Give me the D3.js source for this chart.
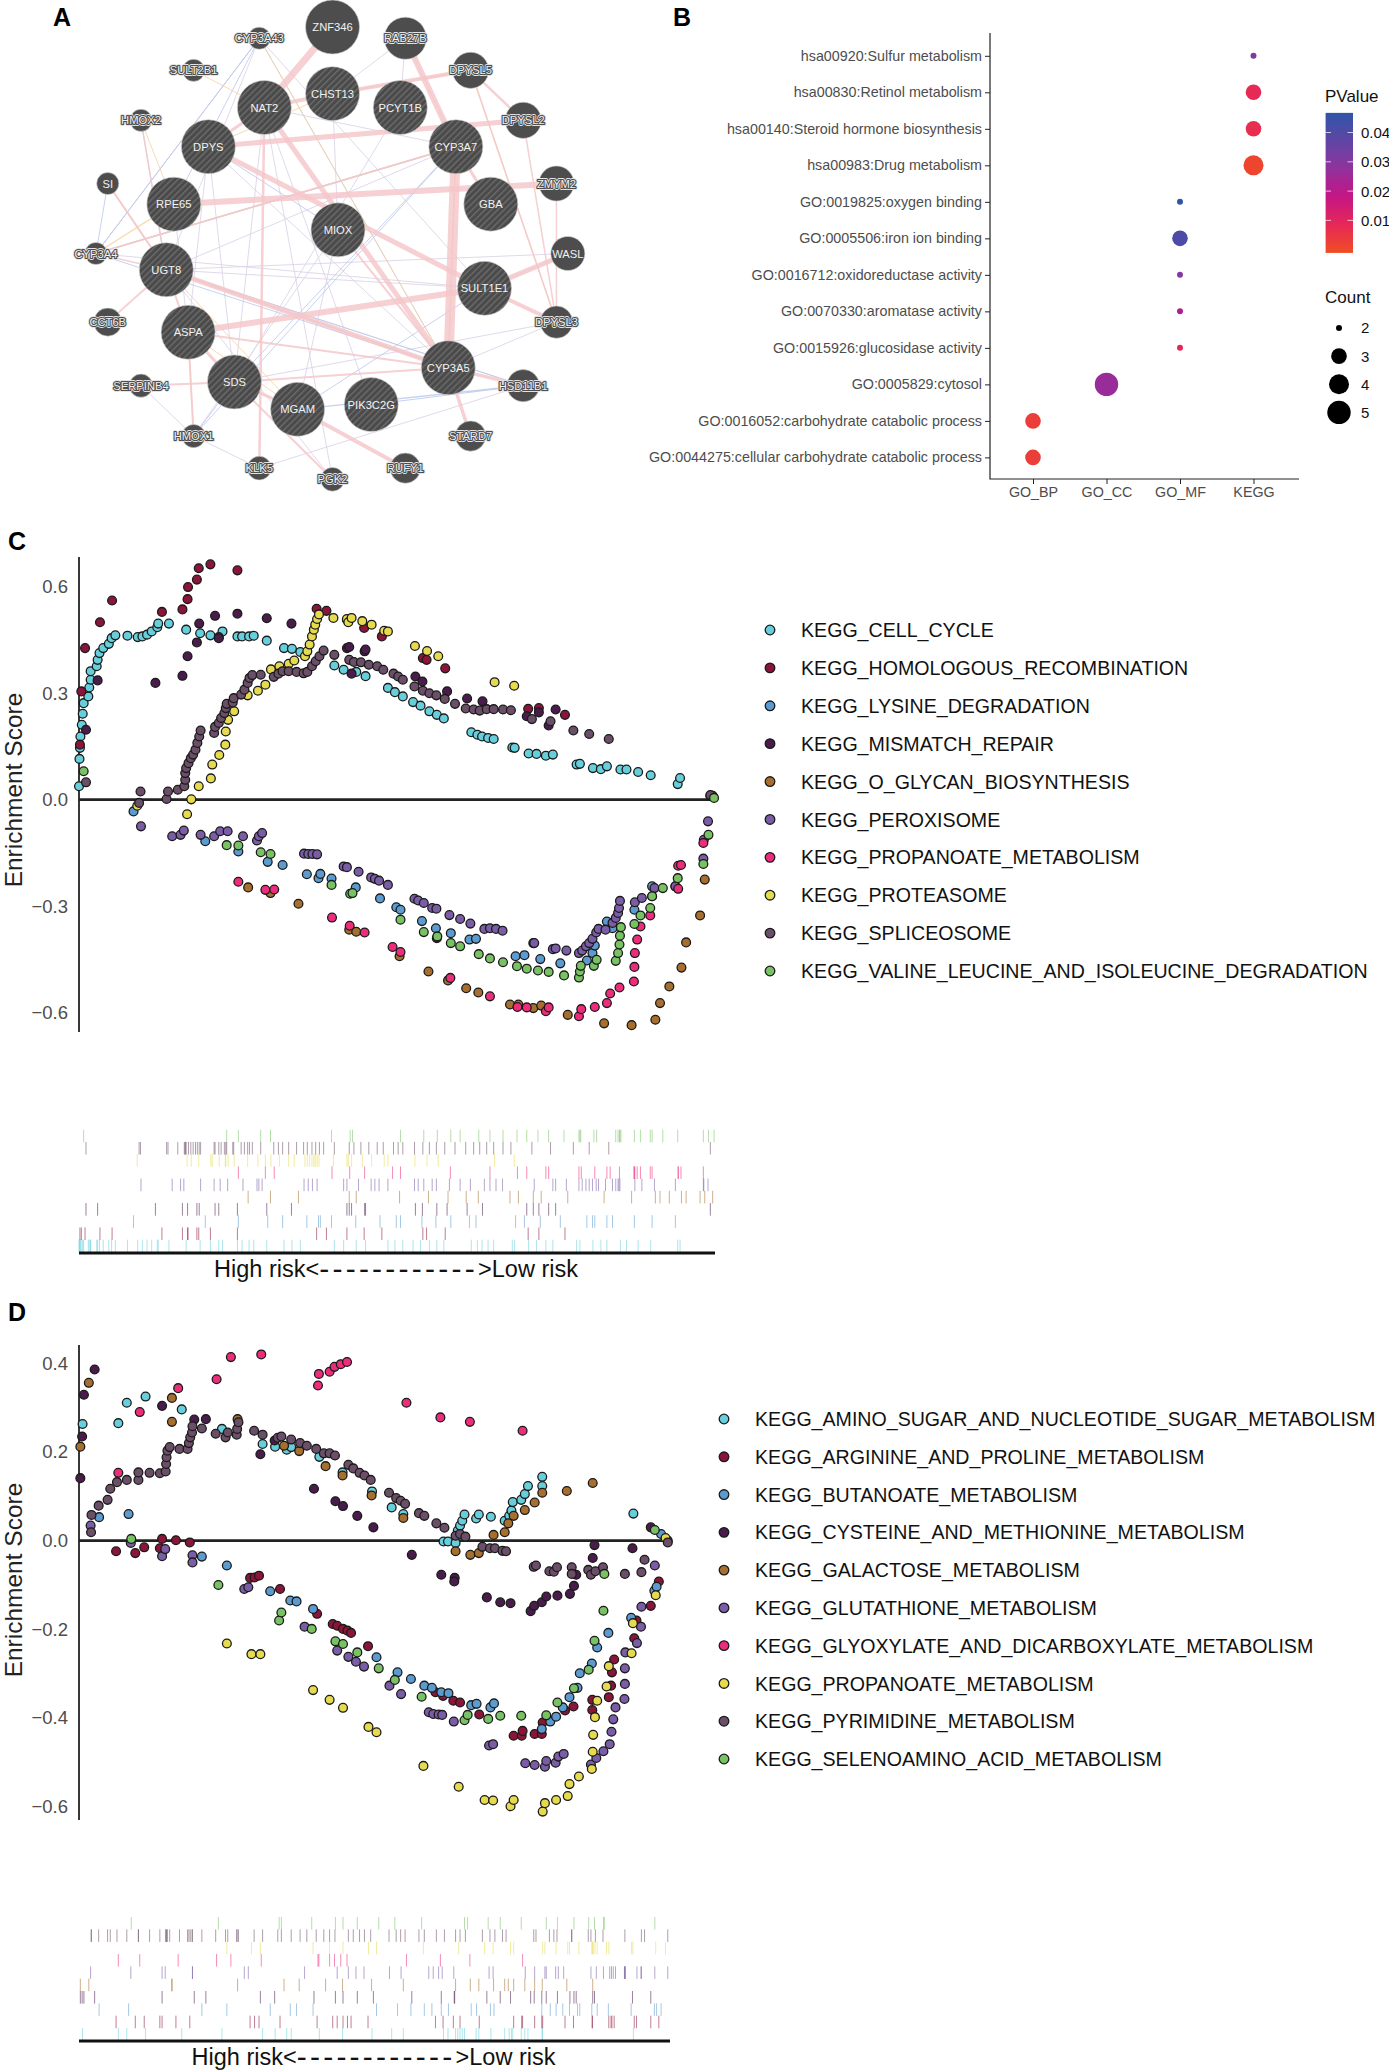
<!DOCTYPE html>
<html>
<head>
<meta charset="utf-8">
<script src="https://cdn.jsdelivr.net/npm/d3@7"></script>
<style>
body { margin: 0; background: #fff; }
text { font-family: "Liberation Sans", Arial, sans-serif; }
</style>
</head>
<body>
<div id="chart"></div>
<script>
// Panel A: network, layout units [name, layoutX, layoutY, score]
const netNodes = [
  ["ZNF346",790,80,1],["RAB27B",963,113,.78],["CYP3A43",616,113,.41],["SULT2B1",460,208,.41],["DPYSL5",1118,208,.67],
  ["CHST13",790,277,1],["NAT2",628,318,1],["PCYT1B",951,318,1],["HMOX2",335,356,.41],["DPYSL2",1243,356,.67],
  ["DPYS",495,434,1],["CYP3A7",1083,434,1],["SI",256,543,.41],["ZMYM2",1322,543,.65],["RPE65",413,604,1],
  ["GBA",1166,604,1],["MIOX",803,680,1],["CYP3A4",228,750,.41],["WASL",1349,750,.63],["UGT8",395,798,1],
  ["SULT1E1",1151,853,1],["CCT6B",256,953,.52],["DPYSL3",1322,953,.6],["ASPA",447,983,1],["CYP3A5",1065,1088,1],
  ["SDS",557,1130,1],["HSD11B1",1243,1141,.6],["SERPINB4",335,1141,.43],["PIK3C2G",882,1197,1],["MGAM",707,1211,1],
  ["HMOX1",460,1290,.43],["STARD7",1118,1290,.56],["KLK5",616,1385,.44],["RUFY1",963,1385,.56],["PGK2",790,1418,.44]
];
const hatchedNodes = ["CHST13","NAT2","PCYT1B","DPYS","CYP3A7","RPE65","GBA","MIOX","UGT8","SULT1E1","ASPA","CYP3A5","SDS","PIK3C2G","MGAM"];
const plainLabels = ["ZNF346","SI","WASL"];
// edges: [from, to, weight]
const pinkEdges = [
  ["ZNF346","NAT2",7],["RAB27B","CYP3A7",6],["DPYSL5","CHST13",4],["DPYSL5","DPYSL2",2.5],["DPYSL5","DPYSL3",1.5],
  ["NAT2","CHST13",4],["DPYSL2","DPYS",5],["DPYS","SULT1E1",5],["RPE65","ZMYM2",6],["ASPA","SULT1E1",6],
  ["SULT1E1","WASL",5],["SULT1E1","DPYSL3",4],["UGT8","CYP3A5",5],["CYP3A7","CYP3A5",10],["NAT2","CYP3A5",5],
  ["CYP3A7","GBA",3],["CYP3A5","HSD11B1",3.5],["CYP3A5","STARD7",3.5],["SDS","ASPA",3],["SDS","CYP3A5",2],
  ["SDS","SERPINB4",2],["SDS","MGAM",3],["SDS","PGK2",2],["MGAM","RUFY1",4],["NAT2","KLK5",2.5],["NAT2","DPYS",3],
  ["UGT8","ASPA",2],["UGT8","CCT6B",2],["UGT8","SI",2],["UGT8","CYP3A4",1.5],["HMOX2","UGT8",1.5],["ASPA","HMOX1",2],
  ["ZMYM2","DPYSL3",1.5],["DPYSL2","DPYSL3",1.5],["MIOX","CYP3A5",2],["ASPA","CYP3A5",2],["CYP3A4","CYP3A7",1.5]
];
const lavenderEdges = [
  ["CYP3A43","UGT8",1],["CYP3A43","CYP3A4",1],["CYP3A43","SULT1E1",1],["DPYS","CYP3A5",1],["UGT8","SULT1E1",1],
  ["UGT8","WASL",1],["UGT8","CYP3A5",1.5],["UGT8","HSD11B1",1],["HMOX1","SERPINB4",1],["HMOX1","KLK5",1],
  ["KLK5","HSD11B1",1],["SDS","DPYSL3",1],["RAB27B","CHST13",1],["RAB27B","PCYT1B",1],["RAB27B","CYP3A7",1],
  ["NAT2","CYP3A7",1],["NAT2","SDS",1],["DPYS","ASPA",1],["DPYS","SDS",1],["MIOX","MGAM",1],["MIOX","HMOX1",1],
  ["CYP3A4","SULT1E1",1],["PCYT1B","SDS",1],["PIK3C2G","NAT2",1],["PGK2","UGT8",1],["RPE65","ASPA",1],["CYP3A4","CYP3A43",1],
  ["NAT2","PGK2",1],["CYP3A7","UGT8",1],["MIOX","CHST13",1],["CYP3A5","DPYSL3",1]
];
const blueEdges = [
  ["CYP3A43","CYP3A4",1],["CYP3A43","CYP3A5",1],["CYP3A43","RPE65",1],["HMOX2","UGT8",1],["CYP3A4","CYP3A7",1.6],
  ["CYP3A4","CYP3A5",1],["UGT8","HSD11B1",1],["UGT8","CYP3A5",1],["MGAM","HSD11B1",1.4],["HMOX1","SDS",1],
  ["CYP3A7","SDS",1],["CYP3A7","CYP3A5",1.2],["DPYS","MIOX",1],["SI","CYP3A4",1],["SULT1E1","MGAM",1],["CYP3A7","HMOX1",1],
  ["UGT8","SI",1],["PIK3C2G","HSD11B1",1],["SULT1E1","WASL",1]
];
const orangeEdges = [
  ["CYP3A43","CYP3A5",1],["SULT2B1","NAT2",1],["HMOX2","RPE65",1],["SI","UGT8",1],["UGT8","CYP3A5",1.2],["UGT8","MGAM",1],
  ["CYP3A4","CYP3A7",1.2],["RPE65","CYP3A4",1.4],["ASPA","HMOX1",1],["DPYSL5","DPYSL3",1.2],["DPYSL5","CHST13",1.2],
  ["CYP3A7","CYP3A5",1.4],["DPYS","CHST13",1],["ASPA","MGAM",1]
];

// Panel B: enrichment dot plot
const termLabels = ["hsa00920:Sulfur metabolism","hsa00830:Retinol metabolism","hsa00140:Steroid hormone biosynthesis","hsa00983:Drug metabolism","GO:0019825:oxygen binding","GO:0005506:iron ion binding","GO:0016712:oxidoreductase activity","GO:0070330:aromatase activity","GO:0015926:glucosidase activity","GO:0005829:cytosol","GO:0016052:carbohydrate catabolic process","GO:0044275:cellular carbohydrate catabolic process"];
const termGroups = ["KEGG","KEGG","KEGG","KEGG","GO_MF","GO_MF","GO_MF","GO_MF","GO_MF","GO_CC","GO_BP","GO_BP"];
const termCounts = [2,3,3,4,2,3,2,2,2,5,3,3];
const termPvalues = [.032,.009,.008,.002,.047,.041,.03,.023,.01,.027,.004,.004];
const groupLabels = ["GO_BP","GO_CC","GO_MF","KEGG"];
const pTicks = [.01,.02,.03,.04];
const countTicks = [2,3,4,5];

// Panel C: GSEA hits, [gene rank, enrichment score]
const cCellCycle = [[0,.038],[1,.115],[2,.146],[3,.178],[6,.211],[8,.242],[10,.272],[20,.291],[22,.316],[25,.338],[25,.362],[38,.376],[40,.394],[44,.413],[52,.427],[64,.439],[70,.455],[78,.463],[104,.462],[126,.458],[136,.46],[146,.465],[156,.474],[168,.486],[170,.496],[193,.496],[230,.479],[260,.469],[282,.463],[308,.474],[300,.458],[340,.46],[350,.46],[365,.46],[375,.462],[403,.448],[440,.427],[457,.425],[475,.416],[548,.378],[568,.366],[595,.36],[615,.348],[663,.315],[678,.303],[695,.291],[717,.275],[733,.265],[752,.249],[768,.239],[783,.229],[842,.19],[855,.183],[865,.178],[878,.174],[890,.171],[930,.147],[935,.146],[965,.13],[982,.129],[1002,.124],[1017,.127],[1068,.099],[1075,.101],[1103,.089],[1120,.086],[1133,.094],[1162,.085],[1175,.085],[1200,.078],[1227,.069],[1285,.044],[1290,.061]];
const cHomologous = [[2,.155],[5,.305],[13,.427],[45,.5],[71,.561],[178,.529],[222,.536],[233,.565],[234,.599],[253,.62],[257,.652],[282,.663],[340,.646],[510,.538],[531,.532],[575,.507],[612,.484],[650,.46],[738,.399],[746,.394],[786,.37],[964,.256],[987,.258],[1043,.239]];
const cLysine = [[117,-.033],[271,-.117],[342,-.146],[405,-.175],[437,-.184],[489,-.21],[514,-.221],[518,-.209],[542,-.222],[594,-.247],[646,-.278],[681,-.303],[690,-.31],[736,-.342],[766,-.362],[798,-.376],[838,-.394],[852,-.392],[937,-.441],[956,-.438],[990,-.449],[1033,-.461],[1090,-.453],[1102,-.432],[1107,-.411],[1133,-.343],[1145,-.362],[1192,-.31],[1230,-.244],[1280,-.244]];
const cMismatch = [[15,.197],[40,.336],[164,.329],[222,.349],[233,.404],[253,.443],[258,.496],[292,.518],[340,.524],[403,.511],[456,.496],[575,.427],[580,.43],[613,.418],[615,.423],[585,.355],[722,.347],[737,.333],[790,.305],[833,.285],[866,.277],[961,.235],[987,.246],[1023,.254],[1008,.209],[975,-.404],[768,-.39],[1355,.011],[300,.455]];
const cGlycan = [[363,-.247],[411,-.263],[471,-.293],[580,-.366],[595,-.372],[688,-.441],[750,-.484],[792,-.509],[831,-.531],[857,-.543],[925,-.577],[943,-.577],[975,-.587],[992,-.58],[1049,-.606],[1127,-.63],[1186,-.635],[1237,-.62],[1247,-.573],[1267,-.526],[1293,-.473],[1303,-.402],[1333,-.326],[1343,-.225],[1360,.011]];
const cPeroxisome = [[133,-.075],[200,-.103],[218,-.099],[225,-.087],[261,-.099],[290,-.103],[303,-.089],[319,-.089],[352,-.103],[382,-.115],[386,-.103],[393,-.094],[483,-.152],[492,-.153],[501,-.153],[511,-.154],[568,-.188],[575,-.19],[600,-.203],[627,-.219],[635,-.223],[644,-.228],[663,-.24],[720,-.279],[728,-.284],[740,-.291],[758,-.305],[767,-.307],[795,-.325],[818,-.336],[840,-.349],[870,-.364],[882,-.362],[895,-.364],[909,-.369],[977,-.404],[1017,-.421],[1023,-.419],[1046,-.425],[1073,-.432],[1080,-.425],[1088,-.413],[1095,-.404],[1102,-.392],[1110,-.374],[1115,-.364],[1130,-.366],[1145,-.347],[1152,-.333],[1157,-.319],[1159,-.305],[1161,-.285],[1193,-.289],[1208,-.277],[1235,-.249],[1280,-.244],[1340,-.166],[1341,-.113],[1350,-.061]];
const cPropanoate = [[342,-.231],[400,-.254],[419,-.253],[543,-.332],[581,-.355],[613,-.374],[673,-.415],[690,-.429],[797,-.502],[882,-.554],[941,-.584],[961,-.585],[1002,-.596],[1008,-.585],[1073,-.61],[1078,-.59],[1107,-.584],[1133,-.573],[1140,-.546],[1160,-.529],[1191,-.512],[1192,-.471],[1193,-.432],[1198,-.394],[1205,-.357],[1226,-.326],[1230,-.272],[1286,-.251],[1286,-.186],[1292,-.184],[1340,-.122]];
const cProteasome = [[125,-.017],[232,-.041],[241,.001],[257,.038],[283,.06],[286,.099],[301,.126],[314,.155],[315,.192],[320,.225],[333,.249],[362,.294],[384,.307],[400,.324],[412,.367],[430,.376],[450,.383],[462,.392],[485,.404],[490,.418],[495,.437],[500,.46],[504,.479],[507,.493],[511,.509],[515,.522],[546,.512],[575,.509],[578,.5],[585,.512],[608,.503],[628,.493],[655,.476],[663,.474],[721,.433],[747,.419],[771,.404],[892,.331],[934,.321]];
const cSpliceosome = [[15,.049],[132,.023],[129,-.009],[188,.002],[191,.023],[212,.028],[226,.038],[228,.056],[228,.075],[230,.089],[235,.103],[240,.117],[245,.127],[250,.141],[254,.16],[258,.178],[261,.195],[290,.188],[292,.205],[300,.216],[305,.23],[312,.244],[315,.258],[317,.27],[330,.274],[332,.286],[348,.296],[355,.31],[362,.329],[366,.343],[372,.351],[390,.352],[418,.346],[428,.355],[437,.362],[450,.362],[467,.36],[482,.356],[490,.36],[500,.376],[508,.39],[516,.404],[525,.42],[548,.408],[580,.394],[590,.388],[605,.387],[622,.38],[640,.376],[653,.366],[675,.355],[685,.347],[695,.338],[720,.319],[738,.307],[752,.3],[767,.294],[785,.284],[807,.27],[830,.257],[847,.254],[860,.251],[875,.255],[890,.255],[910,.254],[927,.252],[972,.227],[1012,.221],[1061,.195],[1095,.185],[1137,.171],[1355,.013]];
const cValine = [[10,.08],[317,-.128],[342,-.129],[390,-.148],[411,-.153],[542,-.24],[582,-.265],[587,-.263],[690,-.338],[740,-.373],[769,-.385],[798,-.404],[818,-.413],[858,-.435],[882,-.447],[910,-.458],[940,-.469],[961,-.476],[985,-.481],[1008,-.485],[1041,-.495],[1073,-.501],[1075,-.484],[1077,-.468],[1105,-.468],[1111,-.451],[1152,-.454],[1157,-.432],[1160,-.408],[1161,-.383],[1163,-.359],[1192,-.35],[1205,-.326],[1226,-.305],[1230,-.272],[1253,-.249],[1285,-.221],[1340,-.181],[1351,-.099],[1363,.005]];
const cNames = ["KEGG_CELL_CYCLE","KEGG_HOMOLOGOUS_RECOMBINATION","KEGG_LYSINE_DEGRADATION","KEGG_MISMATCH_REPAIR","KEGG_O_GLYCAN_BIOSYNTHESIS","KEGG_PEROXISOME","KEGG_PROPANOATE_METABOLISM","KEGG_PROTEASOME","KEGG_SPLICEOSOME","KEGG_VALINE_LEUCINE_AND_ISOLEUCINE_DEGRADATION"];
const cHits = [cCellCycle,cHomologous,cLysine,cMismatch,cGlycan,cPeroxisome,cPropanoate,cProteasome,cSpliceosome,cValine];

// Panel D
const dAminoSugar = [[8,.263],[88,.265],[107,.311],[149,.325],[230,.296],[320,.252],[411,.218],[439,.212],[465,.205],[475,.211],[538,.189],[590,.154],[656,.111],[700,.075],[726,.06],[816,-.002],[826,-.002],[843,-.005],[848,.023],[853,.034],[858,.045],[863,.059],[889,.05],[895,.059],[922,.054],[953,.045],[963,.056],[968,.068],[971,.087],[990,.092],[998,.105],[1005,.123],[1037,.123],[1037,.144],[1241,.061]];
const dArginine = [[83,-.024],[126,-.028],[146,-.015],[181,-.017],[186,.004],[217,.001],[248,-.004],[383,-.084],[393,-.083],[403,-.079],[450,-.109],[533,-.165],[568,-.188],[578,-.192],[591,-.199],[601,-.203],[609,-.208],[647,-.238],[798,-.342],[815,-.35],[838,-.361],[853,-.365],[896,-.392],[973,-.44],[991,-.44],[993,-.429],[1020,-.436],[1036,-.436],[1038,-.41],[1107,-.374],[1088,-.383],[1149,-.359],[1149,-.382],[1186,-.353],[1191,-.327],[1193,-.297],[1198,-.268],[1243,-.22],[1248,-.18],[1280,-.147],[1298,-.092]];
const dButanoate = [[45,.053],[111,.06],[275,-.036],[331,-.056],[428,-.114],[473,-.135],[487,-.137],[524,-.154],[666,-.263],[713,-.297],[743,-.312],[773,-.327],[790,-.332],[811,-.342],[827,-.344],[878,-.371],[890,-.368],[921,-.376],[929,-.367],[1036,-.425],[1055,-.408],[1068,-.397],[1083,-.376],[1098,-.353],[1116,-.332],[1121,-.299],[1148,-.277],[1160,-.241],[1185,-.208],[1236,-.174],[1288,-.113],[1293,-.104],[1303,.015]];
const dCysteine = [[3,.141],[7,.235],[11,.329],[35,.386],[186,.304],[258,.273],[284,.274],[406,.195],[438,.226],[526,.117],[574,.089],[591,.078],[623,.056],[659,.03],[745,-.032],[811,-.077],[841,-.084],[840,-.092],[913,-.128],[943,-.139],[966,-.141],[1011,-.159],[1019,-.147],[1036,-.139],[1046,-.126],[1071,-.124],[1099,-.12],[1108,-.102],[1113,-.077],[1150,-.039],[1154,-.01],[1239,-.017],[1280,.03]];
const dGalactose = [[3,.212],[22,.356],[208,.322],[208,.268],[355,.274],[459,.214],[493,.202],[552,.168],[590,.147],[655,.102],[726,.051],[843,-.024],[876,-.032],[895,-.028],[928,.013],[953,.019],[961,.039],[973,.056],[998,.069],[1020,.086],[1037,.108],[1092,.112],[1150,.13]];
const dGlutathione = [[26,.034],[116,-.005],[186,-.035],[193,-.019],[254,-.033],[254,-.049],[370,-.109],[379,-.105],[505,-.194],[578,-.248],[603,-.262],[620,-.273],[638,-.284],[695,-.327],[721,-.346],[783,-.387],[793,-.391],[805,-.392],[813,-.393],[839,-.408],[918,-.462],[927,-.459],[999,-.502],[1020,-.506],[1043,-.51],[1046,-.497],[1067,-.501],[1073,-.487],[1085,-.481],[1146,-.505],[1158,-.49],[1174,-.475],[1188,-.459],[1192,-.431],[1196,-.403],[1201,-.376],[1221,-.357],[1222,-.323],[1222,-.288],[1223,-.252],[1249,-.231],[1258,-.194],[1259,-.149],[1289,-.056],[1318,0]];
const dGlyoxylate = [[88,.153],[136,.29],[222,.344],[308,.364],[340,.414],[408,.42],[535,.35],[537,.376],[561,.381],[572,.392],[586,.398],[600,.403],[733,.311],[809,.278],[875,.268],[993,.248]];
const dPropanoate = [[331,-.232],[386,-.256],[406,-.256],[524,-.337],[561,-.359],[591,-.377],[648,-.42],[666,-.432],[771,-.508],[850,-.555],[908,-.585],[927,-.586],[966,-.599],[973,-.585],[1038,-.611],[1043,-.592],[1068,-.585],[1094,-.576],[1098,-.549],[1119,-.532],[1148,-.515],[1150,-.476],[1151,-.438],[1155,-.398],[1160,-.361],[1181,-.329],[1186,-.283],[1237,-.254],[1240,-.186],[1291,-.123],[1313,.006]];
const dPyrimidine = [[27,.019],[28,.058],[44,.079],[64,.092],[70,.117],[85,.132],[107,.137],[133,.137],[133,.154],[158,.153],[181,.152],[194,.156],[195,.173],[196,.188],[198,.203],[203,.211],[225,.207],[243,.207],[246,.22],[249,.233],[253,.244],[254,.258],[275,.253],[306,.241],[328,.233],[333,.244],[353,.239],[354,.252],[357,.267],[392,.248],[411,.239],[445,.232],[453,.235],[475,.228],[495,.22],[510,.214],[531,.207],[548,.197],[561,.197],[573,.192],[603,.171],[614,.163],[628,.153],[639,.147],[653,.137],[694,.108],[710,.096],[720,.09],[730,.083],[761,.062],[773,.056],[800,.039],[818,.029],[843,.011],[853,.015],[865,.009],[903,-.014],[920,-.017],[931,-.017],[948,-.023],[956,-.024],[1018,-.059],[1023,-.056],[1053,-.069],[1063,-.07],[1070,-.06],[1103,-.06],[1103,-.075],[1140,-.066],[1146,-.077],[1156,-.069],[1173,-.06],[1222,-.075],[1259,-.071],[1266,-.043],[1318,-.004]];
const dSelenoamino = [[117,.004],[312,-.1],[448,-.18],[453,-.162],[521,-.199],[574,-.227],[591,-.233],[623,-.252],[671,-.288],[707,-.314],[767,-.352],[863,-.405],[870,-.393],[916,-.402],[943,-.395],[990,-.395],[1046,-.394],[1071,-.365],[1108,-.333],[1141,-.291],[1154,-.226],[1174,-.158],[1176,-.075],[1289,.024]];
const dNames = ["KEGG_AMINO_SUGAR_AND_NUCLEOTIDE_SUGAR_METABOLISM","KEGG_ARGININE_AND_PROLINE_METABOLISM","KEGG_BUTANOATE_METABOLISM","KEGG_CYSTEINE_AND_METHIONINE_METABOLISM","KEGG_GALACTOSE_METABOLISM","KEGG_GLUTATHIONE_METABOLISM","KEGG_GLYOXYLATE_AND_DICARBOXYLATE_METABOLISM","KEGG_PROPANOATE_METABOLISM","KEGG_PYRIMIDINE_METABOLISM","KEGG_SELENOAMINO_ACID_METABOLISM"];
const dHits = [dAminoSugar,dArginine,dButanoate,dCysteine,dGalactose,dGlutathione,dGlyoxylate,dPropanoate,dPyrimidine,dSelenoamino];

const gseaColors = ["#67cfdc","#8a1538","#5b9bd0","#491c4c","#a66f2e","#7a5da6","#ee2c7c","#e6da4e","#6b4f68","#78c264"];
const inkGray = "#4d4d4d";

const svg = d3.select("#chart").append("svg").attr("width", 1389).attr("height", 2070);

// panel letters
function panelLetter(txt, x, y) {
  svg.append("text").attr("x", x).attr("y", y).attr("text-anchor", "middle")
    .attr("font-size", 25).attr("font-weight", "bold").attr("fill", "#000").text(txt);
}
panelLetter("A", 62, 26);
panelLetter("B", 682, 26);
panelLetter("C", 17, 550);
panelLetter("D", 17, 1321);

//======================== PANEL A ========================
function drawNetwork() {
  const nx = d3.scaleLinear().domain([0, 1568]).range([0, 660]);
  const ny = d3.scaleLinear().domain([0, 1568]).range([0, 530]);
  const nr = d3.scaleLinear().domain([0, 1]).range([0, 27]);
  const byName = new Map(netNodes.map(d => [d[0], d]));

  const pat = svg.append("defs").append("pattern").attr("id", "hatch")
    .attr("width", 4.5).attr("height", 4.5).attr("patternUnits", "userSpaceOnUse")
    .attr("patternTransform", "rotate(45)");
  pat.append("rect").attr("width", 4.5).attr("height", 4.5).attr("fill", "#4a4a4a");
  pat.append("rect").attr("width", 1.4).attr("height", 4.5).attr("fill", "#6b6b6b");

  const g = svg.append("g");
  const edgeSets = [[lavenderEdges, "#dcd3e9"], [blueEdges, "#bccbee"], [orangeEdges, "#f8d4a4"], [pinkEdges, "#f5c8cb"]];
  edgeSets.forEach(([edges, col]) => {
    g.selectAll(null).data(edges).enter().append("line")
      .attr("x1", d => nx(byName.get(d[0])[1])).attr("y1", d => ny(byName.get(d[0])[2]))
      .attr("x2", d => nx(byName.get(d[1])[1])).attr("y2", d => ny(byName.get(d[1])[2]))
      .attr("stroke", col).attr("stroke-width", d => d[2]).attr("opacity", .85);
  });

  g.selectAll("circle").data(netNodes).enter().append("circle")
    .attr("cx", d => nx(d[1])).attr("cy", d => ny(d[2])).attr("r", d => nr(d[3]))
    .attr("fill", d => hatchedNodes.includes(d[0]) ? "url(#hatch)" : "#4d4d4d")
    .attr("stroke", "#d0d0d0").attr("stroke-width", .6);

  // small node labels overflow their circle, so they get a dark and a pale outline
  const haloed = netNodes.filter(d => d[3] < .9 && !plainLabels.includes(d[0]));
  [["#e4e4e4", 3.8], ["#4d4d4d", 2.2]].forEach(([col, w]) => {
    g.selectAll(null).data(haloed).enter().append("text")
      .attr("x", d => nx(d[1])).attr("y", d => ny(d[2])).attr("dy", ".36em")
      .attr("text-anchor", "middle").attr("font-size", 11.2)
      .attr("fill", col).attr("stroke", col).attr("stroke-width", w).attr("stroke-linejoin", "round")
      .text(d => d[0]);
  });
  g.selectAll("text.nl").data(netNodes).enter().append("text").attr("class", "nl")
    .attr("x", d => nx(d[1])).attr("y", d => ny(d[2])).attr("dy", ".36em")
    .attr("text-anchor", "middle").attr("font-size", 11.2).attr("fill", "#f2f2f2").text(d => d[0]);
}
drawNetwork();

//======================== PANEL B ========================
function drawDots() {
  const x = d3.scalePoint().domain(groupLabels).range([1033, 1253.5]);
  const y = d3.scalePoint().domain(termLabels).range([55.8, 457.4]);
  const size = d3.scaleLinear().domain(countTicks).range([3, 7.8, 10, 11.7]);
  const colour = d3.scaleLinear().domain([0, .01, .02, .03, .04, .047])
    .range(["#f04e23", "#e6265a", "#c0148a", "#87389f", "#5349a6", "#2f55a8"]);
  const data = termLabels.map((t, i) => ({ term: t, group: termGroups[i], count: termCounts[i], p: termPvalues[i] }));

  const g = svg.append("g");
  const yAxis = g.append("g").attr("transform", "translate(990,0)")
    .call(d3.axisLeft(y).tickSize(5).tickPadding(3));
  const xAxis = g.append("g").attr("transform", "translate(0,479)")
    .call(d3.axisBottom(x).tickSize(5).tickPadding(3));
  [yAxis, xAxis].forEach(a => {
    a.select(".domain").remove();
    a.selectAll("text").attr("font-size", 14.3).attr("fill", inkGray).style("font-family", '"Liberation Sans", Arial, sans-serif');
    a.selectAll("line").attr("stroke", "#222").attr("stroke-width", 1);
  });
  g.append("path").attr("d", d3.line()([[990, 33], [990, 479], [1299, 479]]))
    .attr("fill", "none").attr("stroke", "#222").attr("stroke-width", 1.2);

  g.selectAll("circle").data(data).enter().append("circle")
    .attr("cx", d => x(d.group)).attr("cy", d => y(d.term))
    .attr("r", d => size(d.count)).attr("fill", d => colour(d.p));

  // colour bar
  const barY = d3.scaleLinear().domain([.01, .04]).range([220.4, 132.5]);
  const barBottom = barY(-.0011), barTop = barY(.0467);
  const grad = svg.append("defs").append("linearGradient").attr("id", "pbar")
    .attr("x1", 0).attr("x2", 0).attr("y1", 1).attr("y2", 0);
  d3.range(0, 1.001, .1).forEach(t => {
    grad.append("stop").attr("offset", t).attr("stop-color", colour(t * .047));
  });
  g.append("rect").attr("x", 1325.6).attr("y", barTop).attr("width", 27.4).attr("height", barBottom - barTop).attr("fill", "url(#pbar)");
  g.selectAll("line.ptick").data(pTicks).enter().append("line").attr("class", "ptick")
    .attr("x1", 1325.6).attr("x2", 1331).attr("y1", d => barY(d)).attr("y2", d => barY(d)).attr("stroke", "#fff").attr("stroke-opacity", .7);
  g.selectAll("line.ptick2").data(pTicks).enter().append("line").attr("class", "ptick2")
    .attr("x1", 1347.5).attr("x2", 1353).attr("y1", d => barY(d)).attr("y2", d => barY(d)).attr("stroke", "#fff").attr("stroke-opacity", .7);
  g.selectAll("text.pl").data(pTicks).enter().append("text").attr("class", "pl")
    .attr("x", 1361).attr("y", d => barY(d)).attr("dy", ".36em").attr("font-size", 15).attr("fill", "#111").text(d => d.toFixed(2));
  g.append("text").attr("x", 1325).attr("y", 102).attr("font-size", 17).attr("fill", "#111").text("PValue");

  // size legend
  const countY = d3.scalePoint().domain(countTicks).range([328, 412.4]);
  g.append("text").attr("x", 1325).attr("y", 303).attr("font-size", 17).attr("fill", "#111").text("Count");
  g.selectAll("circle.cl").data(countTicks).enter().append("circle").attr("class", "cl")
    .attr("cx", 1339).attr("cy", d => countY(d)).attr("r", d => size(d)).attr("fill", "#000");
  g.selectAll("text.cl").data(countTicks).enter().append("text").attr("class", "cl")
    .attr("x", 1361).attr("y", d => countY(d)).attr("dy", ".36em").attr("font-size", 15).attr("fill", "#111").text(d => d);
}
drawDots();

//======================== PANEL C / D ========================
function drawGsea(opt) {
  const x = d3.scaleLinear().domain([0, opt.maxRank]).range(opt.xRange);
  const y = d3.scaleLinear().domain(opt.yDomain).range(opt.yRange);
  const rugY = d3.scalePoint().domain(opt.names).range(opt.rugRange);
  const g = svg.append("g");

  const yAxis = g.append("g").attr("transform", `translate(${opt.xRange[0]},0)`)
    .call(d3.axisLeft(y).tickValues(opt.ticks).tickSize(0).tickPadding(11).tickFormat(d3.format(".1f")));
  yAxis.select(".domain").remove();
  yAxis.selectAll("text").attr("font-size", 18.5).attr("fill", inkGray).style("font-family", '"Liberation Sans", Arial, sans-serif');

  g.append("line").attr("x1", opt.xRange[0]).attr("x2", opt.xRange[0]).attr("y1", opt.axisTop).attr("y2", opt.axisBottom)
    .attr("stroke", "#222").attr("stroke-width", 1.8);
  g.append("line").attr("x1", opt.xRange[0]).attr("x2", opt.xRange[1]).attr("y1", y(0)).attr("y2", y(0))
    .attr("stroke", "#222").attr("stroke-width", 2.8);

  g.append("text").attr("transform", `translate(22.3,${opt.labelY}) rotate(-90)`).attr("text-anchor", "middle")
    .attr("font-size", 24.5).attr("fill", "#222").text("Enrichment Score");

  opt.hits.forEach((hits, i) => {
    g.append("g").selectAll("circle").data(hits).enter().append("circle")
      .attr("cx", d => x(d[0])).attr("cy", d => y(d[1])).attr("r", 4.4)
      .attr("fill", gseaColors[i]).attr("stroke", "#1a1a1a").attr("stroke-width", 1.3);
    // rug row
    g.append("g").selectAll("line").data(hits).enter().append("line")
      .attr("x1", d => x(d[0])).attr("x2", d => x(d[0]))
      .attr("y1", rugY(opt.names[i]) - 6.3).attr("y2", rugY(opt.names[i]) + 6.3)
      .attr("stroke", gseaColors[i]).attr("stroke-width", 1).attr("stroke-opacity", .55);
  });

  g.append("line").attr("x1", opt.xRange[0]).attr("x2", opt.xRange[1]).attr("y1", opt.rugAxis).attr("y2", opt.rugAxis)
    .attr("stroke", "#111").attr("stroke-width", 2.8);
  // the dashes of the risk arrow are long and spaced out in the figure
  const risk = g.append("text").attr("x", (opt.xRange[0] + opt.xRange[1]) / 2 - 1).attr("y", opt.rugAxis + 24)
    .attr("text-anchor", "middle").attr("font-size", 23.5).attr("fill", "#111");
  risk.append("tspan").text("High risk<");
  risk.append("tspan").attr("font-size", 30).attr("letter-spacing", 3.25).attr("dy", 1.5).text("------------");
  risk.append("tspan").attr("dy", -1.5).text(">Low risk");

  // legend
  const legY = d3.scalePoint().domain(opt.names).range(opt.legendRange);
  g.selectAll("circle.leg").data(opt.names).enter().append("circle").attr("class", "leg")
    .attr("cx", opt.legendX).attr("cy", d => legY(d)).attr("r", 4.8)
    .attr("fill", (d, i) => gseaColors[i]).attr("stroke", "#1a1a1a").attr("stroke-width", 1.3);
  g.selectAll("text.leg").data(opt.names).enter().append("text").attr("class", "leg")
    .attr("x", opt.legendX + 31).attr("y", d => legY(d)).attr("dy", ".36em")
    .attr("font-size", 19.6).attr("fill", "#111").text(d => d);
}

drawGsea({
  hits: cHits, names: cNames, maxRank: 1365, xRange: [79, 715],
  yDomain: [-.6, .6], yRange: [1012.7, 586.7], ticks: [-.6, -.3, 0, .3, .6],
  axisTop: 557, axisBottom: 1032, labelY: 790,
  rugRange: [1246, 1136], rugAxis: 1253,
  legendX: 770, legendRange: [630, 971]
});
drawGsea({
  hits: dHits, names: dNames, maxRank: 1323, xRange: [79, 670],
  yDomain: [-.6, .4], yRange: [1806.7, 1363.3], ticks: [-.6, -.4, -.2, 0, .2, .4],
  axisTop: 1345, axisBottom: 1820, labelY: 1580,
  rugRange: [2034.3, 1923.3], rugAxis: 2041,
  legendX: 724, legendRange: [1419, 1759]
});
</script>
</body>
</html>
